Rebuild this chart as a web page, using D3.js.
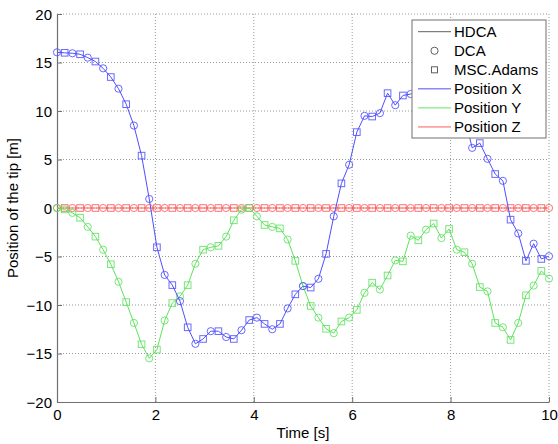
<!DOCTYPE html>
<html>
<head>
<meta charset="utf-8">
<script src="https://cdn.jsdelivr.net/npm/d3@7"></script>
<style>
  body { margin: 0; background: #fff; }
  svg text { font-family: "Liberation Sans", Arial, sans-serif; }
</style>
</head>
<body>
<div id="chart"></div>
<script>
// sample times [s]
var time = [0, 0.156, 0.313, 0.469, 0.625, 0.781, 0.938, 1.094, 1.25, 1.406, 1.563, 1.719, 1.875,
  2.031, 2.188, 2.344, 2.5, 2.656, 2.813, 2.969, 3.125, 3.281, 3.438, 3.594, 3.75, 3.906, 4.063,
  4.219, 4.375, 4.531, 4.688, 4.844, 5, 5.156, 5.313, 5.469, 5.625, 5.781, 5.938, 6.094, 6.25,
  6.406, 6.563, 6.719, 6.875, 7.031, 7.188, 7.344, 7.5, 7.656, 7.813, 7.969, 8.125, 8.281, 8.438,
  8.594, 8.75, 8.906, 9.063, 9.219, 9.375, 9.531, 9.688, 9.844, 10];

var posX = [16.05, 16.0, 15.95, 15.85, 15.5, 15.1, 14.4, 13.5, 12.3, 10.7, 8.5, 5.4, 0.93,
  -4.05, -6.9, -7.95, -9.6, -12.3, -14.0, -13.5, -12.7, -12.7, -13.3, -13.5, -12.6, -11.55, -11.3,
  -11.95, -12.5, -11.95, -10.35, -8.9, -8.05, -8.2, -7.3, -4.73, -0.86, 2.54, 4.46, 7.82, 9.5,
  9.43, 9.78, 11.84, 10.6, 11.6, 11.75, 12.0, 11.2, 12.2, 11.6, 10.8, 10.9, 9.5, 6.2,
  6.69, 5.07, 3.5, 2.8, -1.2, -2.62, -5.45, -3.68, -5.25, -4.97];

var posY = [0, -0.15, -0.5, -1.0, -1.95, -2.95, -4.3, -5.8, -7.6, -9.7, -11.85, -14.05, -15.5,
  -14.6, -11.6, -9.8, -9.1, -7.95, -5.75, -4.3, -4.05, -3.9, -2.95, -1.27, -0.17, 0, -0.86,
  -1.75, -1.95, -2.1, -3.25, -5.45, -8.05, -10.1, -11.3, -12.45, -12.9, -11.7, -11.3, -10.5, -8.75,
  -7.7, -8.4, -6.96, -5.4, -5.5, -2.85, -3.33, -2.23, -1.6, -3.1, -2.16, -4.3, -4.56, -5.75,
  -8.15, -8.6, -11.85, -12.3, -13.6, -11.85, -9.0, -8.0, -6.48, -7.28];

var posZ = [0, 0, 0, 0, 0, 0, 0, 0, 0, 0, 0, 0, 0, 0, 0, 0, 0, 0, 0, 0, 0, 0, 0, 0, 0, 0, 0,
  0, 0, 0, 0, 0, 0, 0, 0, 0, 0, 0, 0, 0, 0, 0, 0, 0, 0, 0, 0, 0, 0, 0, 0, 0, 0, 0, 0,
  0, 0, 0, 0, 0, 0, 0, 0, 0, 0];

var xTicks = [0, 2, 4, 6, 8, 10];
var yTicks = [-20, -15, -10, -5, 0, 5, 10, 15, 20];

var seriesNames = ["Position X", "Position Y", "Position Z"];
var methodNames = ["HDCA", "DCA", "MSC.Adams"];

var W = 558, H = 444;
var margin = {top: 14, right: 9, bottom: 42, left: 57},
    width = W - margin.left - margin.right,
    height = H - margin.top - margin.bottom;

var colors = ["#4f4fff", "#5ee35e", "#ff5a5a"];

var x = d3.scaleLinear().domain([0, 10]).range([0, width]);
var y = d3.scaleLinear().domain([-20, 20]).range([height, 0]);

var svg = d3.select("#chart").append("svg")
    .attr("width", W)
    .attr("height", H)
  .append("g")
    .attr("transform", "translate(" + margin.left + "," + margin.top + ")");

// grid
svg.append("g").selectAll("line")
    .data(xTicks.slice(1))
  .enter().append("line")
    .attr("x1", function(d) { return x(d); })
    .attr("x2", function(d) { return x(d); })
    .attr("y1", 0).attr("y2", height)
    .attr("stroke", "#9a9a9a").attr("stroke-dasharray", "1,2");
svg.append("g").selectAll("line")
    .data(yTicks.slice(1))
  .enter().append("line")
    .attr("y1", function(d) { return y(d); })
    .attr("y2", function(d) { return y(d); })
    .attr("x1", 0).attr("x2", width)
    .attr("stroke", "#9a9a9a").attr("stroke-dasharray", "1,2");

// axes (ticks inward, like matlab)
var xAxis = svg.append("g")
    .attr("transform", "translate(0," + height + ")")
    .call(d3.axisBottom(x).tickValues(xTicks).tickSizeInner(-5).tickSizeOuter(0).tickPadding(7));
var yAxis = svg.append("g")
    .call(d3.axisLeft(y).tickValues(yTicks).tickSizeInner(-5).tickSizeOuter(0).tickPadding(5));
[xAxis, yAxis].forEach(function(a) {
  a.select(".domain").attr("stroke", "#707070").attr("stroke-width", 1.2);
  a.selectAll(".tick line").attr("stroke", "#707070");
  a.selectAll("text").attr("font-size", 15).attr("fill", "#000")
    .style("font-family", "'Liberation Sans', Arial, sans-serif");
});
yAxis.selectAll("text").attr("dy", "0.35em");

svg.append("text")
    .attr("x", width / 2).attr("y", height + 36)
    .attr("text-anchor", "middle").attr("font-size", 15)
    .text("Time [s]");
svg.append("text")
    .attr("transform", "translate(-39," + (height / 2) + ") rotate(-90)")
    .attr("text-anchor", "middle").attr("font-size", 15)
    .text("Position of the tip [m]");

var line = d3.line()
    .x(function(d) { return x(d[0]); })
    .y(function(d) { return y(d[1]); });

var all = [posX, posY, posZ];

// draw Z first, then Y, then X so blue is on top
[2, 1, 0].forEach(function(s) {
  var pts = time.map(function(t, i) { return [t, all[s][i]]; });
  var g = svg.append("g");
  g.append("path")
      .attr("d", line(pts))
      .attr("fill", "none")
      .attr("stroke", colors[s])
      .attr("stroke-width", 1);
  g.selectAll("circle")
      .data(pts.filter(function(d, i) { return i % 2 === 0; }))
    .enter().append("circle")
      .attr("cx", function(d) { return x(d[0]); })
      .attr("cy", function(d) { return y(d[1]); })
      .attr("r", 3.6)
      .attr("fill", "none")
      .attr("stroke", colors[s])
      .attr("stroke-opacity", 0.85);
  g.selectAll("rect")
      .data(pts.filter(function(d, i) { return i % 2 === 1; }))
    .enter().append("rect")
      .attr("x", function(d) { return x(d[0]) - 3.3; })
      .attr("y", function(d) { return y(d[1]) - 3.3; })
      .attr("width", 6.6).attr("height", 6.6)
      .attr("fill", "none")
      .attr("stroke", colors[s])
      .attr("stroke-opacity", 0.85);
});

// legend
var lg = svg.append("g").attr("transform", "translate(" + (412 - margin.left) + "," + (20 - margin.top) + ")");
lg.append("rect")
    .attr("width", 134).attr("height", 118)
    .attr("fill", "#fff").attr("stroke", "#707070").attr("stroke-width", 1);
var rowY = function(k) { return 11.7 + k * 19.05; };
var labels = methodNames.concat(seriesNames);
labels.forEach(function(name, k) {
  var yy = rowY(k);
  if (k === 0 || k >= 3) {
    lg.append("line")
        .attr("x1", 6).attr("x2", 39).attr("y1", yy).attr("y2", yy)
        .attr("stroke", k === 0 ? "#606060" : colors[k - 3]);
  } else if (k === 1) {
    lg.append("circle").attr("cx", 22.5).attr("cy", yy).attr("r", 3.6)
        .attr("fill", "none").attr("stroke", "#606060");
  } else {
    lg.append("rect").attr("x", 19.5).attr("y", yy - 3).attr("width", 6).attr("height", 6)
        .attr("fill", "none").attr("stroke", "#606060");
  }
  lg.append("text")
      .attr("x", 42).attr("y", yy).attr("dy", "0.35em")
      .attr("font-size", 15)
      .text(name);
});
</script>
</body>
</html>
